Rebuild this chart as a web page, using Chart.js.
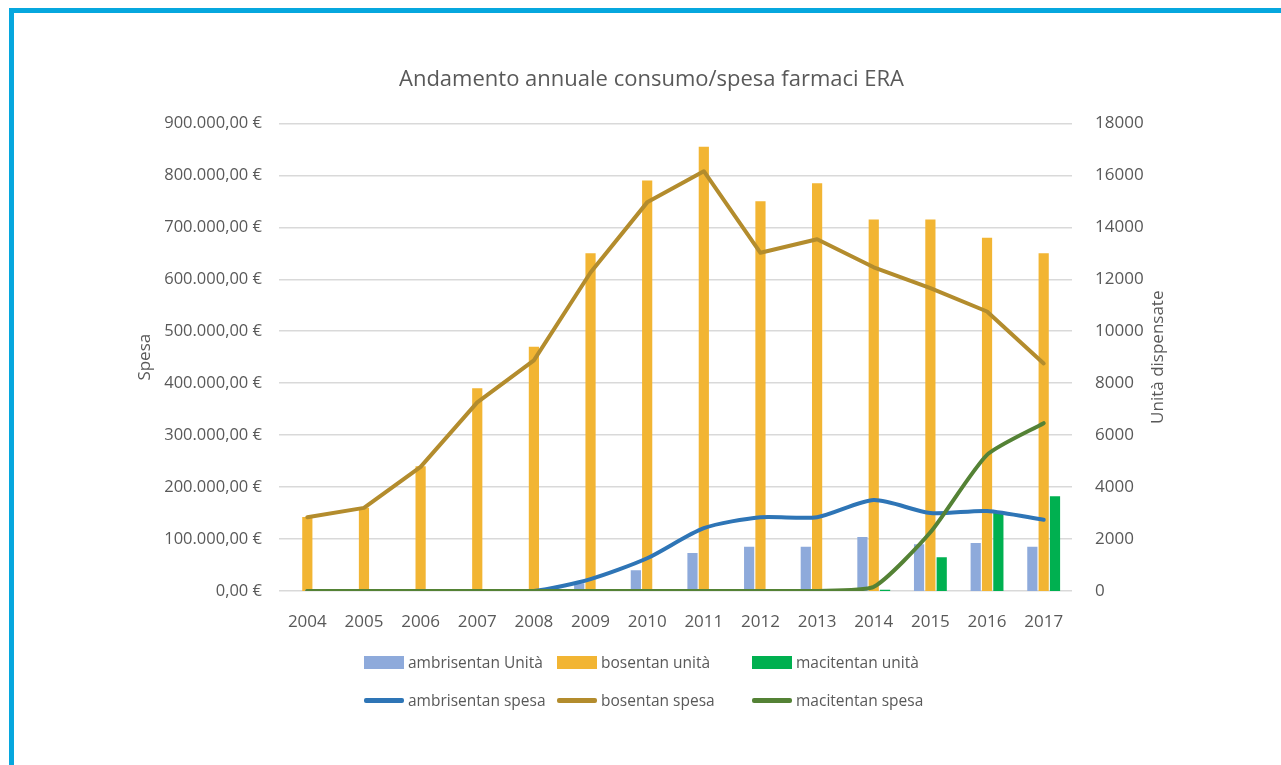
<!DOCTYPE html>
<html lang="it">
<head>
<meta charset="utf-8">
<title>Andamento annuale consumo/spesa farmaci ERA</title>
<script src="https://cdn.jsdelivr.net/npm/chart.js@4.4.1/dist/chart.umd.min.js"></script>
<style>
  html, body { margin: 0; padding: 0; background: #fff; }
  body { width: 1281px; height: 765px; position: relative; overflow: hidden; font-family: "Open Sans", sans-serif; }
  .frame { position: absolute; left: 9px; top: 8px; right: 0; bottom: 0; border-left: 5px solid #06a7de; border-top: 5px solid #06a7de; }
  .chart-box { position: absolute; left: 20px; top: 0; width: 1260px; height: 765px; }
  #legend { position: absolute; left: 364px; top: 650px; display: grid; grid-template-columns: 193px 195px 200px; grid-auto-rows: 24px; row-gap: 14px; color: #595959; font-size: 15.5px; }
  #legend .item { display: flex; align-items: center; white-space: nowrap; }
  #legend .sw { display: inline-block; width: 40px; margin-right: 4px; }
  #legend .bar { height: 13px; }
  #legend .line { height: 5px; border-radius: 2px; }
</style>
</head>
<body>
<div class="frame"></div>
<div class="chart-box"><canvas id="chart" width="1260" height="765"></canvas></div>
<div id="legend"></div>
<script>
const years = ["2004", "2005", "2006", "2007", "2008", "2009", "2010", "2011", "2012", "2013", "2014", "2015", "2016", "2017"];

// units dispensed (right axis)
const ambrisentanUnita = [0, 0, 0, 0, 0, 300, 800, 1460, 1700, 1700, 2080, 1800, 1850, 1700];
const bosentanUnita = [2850, 3200, 4800, 7800, 9400, 13000, 15800, 17100, 15000, 15700, 14300, 14300, 13600, 13000];
const macitentanUnita = [0, 0, 0, 0, 0, 0, 0, 0, 0, 0, 50, 1300, 3000, 3650];

// yearly expense in euro (left axis)
const ambrisentanSpesa = [0, 0, 0, 0, 0, 23000, 63000, 121000, 142000, 142000, 175000, 150000, 154000, 137000];
const bosentanSpesa = [142000, 160000, 239000, 363000, 444000, 613000, 748000, 808000, 651000, 677000, 623000, 583000, 538000, 438000];
const macitentanSpesa = [0, 0, 0, 0, 0, 0, 0, 0, 0, 0, 8000, 113000, 262000, 323000];

const chartTitle = "Andamento annuale consumo/spesa farmaci ERA";
const leftAxisTitle = "Spesa";
const rightAxisTitle = "Unità dispensate";

const textColor = "#595959";
const fontFamily = '"Open Sans", sans-serif';

// 900000 -> "900.000,00 €"
function euro(v) {
  const int = String(Math.round(v)).replace(/\B(?=(\d{3})+(?!\d))/g, ".");
  return int + ",00 €";
}

const barSets = [
  { label: "ambrisentan Unità", data: ambrisentanUnita, color: "#8eaadb" },
  { label: "bosentan unità", data: bosentanUnita, color: "#f2b533" },
  { label: "macitentan unità", data: macitentanUnita, color: "#00b050" }
];
const lineSets = [
  { label: "ambrisentan spesa", data: ambrisentanSpesa, color: "#2e75b6", tension: 0.25, order: 1 },
  { label: "bosentan spesa", data: bosentanSpesa, color: "#b38c2d", tension: 0, order: 2 },
  { label: "macitentan spesa", data: macitentanSpesa, color: "#548235", tension: 0.2, order: 0 }
];

const datasets = [];
barSets.forEach(s => datasets.push({
  type: "bar", label: s.label, data: s.data, backgroundColor: s.color,
  yAxisID: "y1", order: 5, categoryPercentage: 0.6, barPercentage: 0.9
}));
lineSets.forEach(s => datasets.push({
  type: "line", label: s.label, data: s.data, borderColor: s.color, backgroundColor: s.color,
  yAxisID: "y", order: s.order, borderWidth: 4, pointRadius: 0, tension: s.tension,
  borderCapStyle: "round", borderJoinStyle: "round"
}));

// rotated axis titles, both reading bottom to top
const axisTitles = {
  id: "axisTitles",
  afterDraw(chart) {
    const ctx = chart.ctx;
    const midY = (chart.chartArea.top + chart.chartArea.bottom) / 2;
    const draw = (text, x) => {
      ctx.save();
      ctx.translate(x, midY);
      ctx.rotate(-Math.PI / 2);
      ctx.font = "17px " + fontFamily;
      ctx.fillStyle = textColor;
      ctx.textAlign = "center";
      ctx.textBaseline = "middle";
      ctx.fillText(text, 0, 0);
      ctx.restore();
    };
    draw(leftAxisTitle, chart.scales.y.left + 20);
    draw(rightAxisTitle, chart.scales.y1.right - 20);
  }
};

new Chart(document.getElementById("chart"), {
  data: { labels: years, datasets: datasets },
  plugins: [axisTitles],
  options: {
    responsive: false,
    animation: false,
    layout: { padding: { left: 105, right: 102, top: 58, bottom: 134 } },
    plugins: {
      legend: { display: false },
      tooltip: { enabled: false },
      title: {
        display: true, text: chartTitle, color: textColor,
        font: { family: fontFamily, size: 22, weight: "normal" },
        padding: { top: 9, bottom: 30 }
      }
    },
    scales: {
      x: {
        offset: true,
        grid: { display: false },
        border: { display: false },
        ticks: { color: textColor, font: { family: fontFamily, size: 17 }, padding: 13, maxRotation: 0 },
        afterFit(scale) { scale.height = 40; }
      },
      y: {
        position: "left", min: 0, max: 900000,
        grid: { color: "#d9d9d9", lineWidth: 1.5, drawTicks: false },
        border: { display: false },
        ticks: { stepSize: 100000, color: textColor, font: { family: fontFamily, size: 16.5 }, padding: 17, callback: v => euro(v) },
        afterFit(scale) { scale.width = 154; }
      },
      y1: {
        position: "right", min: 0, max: 18000,
        grid: { display: false },
        border: { display: false },
        ticks: { stepSize: 2000, color: textColor, font: { family: fontFamily, size: 17 }, padding: 15, callback: v => String(v) },
        afterFit(scale) { scale.width = 106; }
      }
    }
  }
});

// legend: three columns, bar series on the first row, expense lines on the second
const legend = document.getElementById("legend");
barSets.concat(lineSets).forEach((s, i) => {
  const item = document.createElement("div");
  item.className = "item";
  const sw = document.createElement("span");
  sw.className = "sw " + (i < 3 ? "bar" : "line");
  sw.style.background = s.color;
  item.appendChild(sw);
  item.appendChild(document.createTextNode(s.label));
  legend.appendChild(item);
});
</script>
</body>
</html>
